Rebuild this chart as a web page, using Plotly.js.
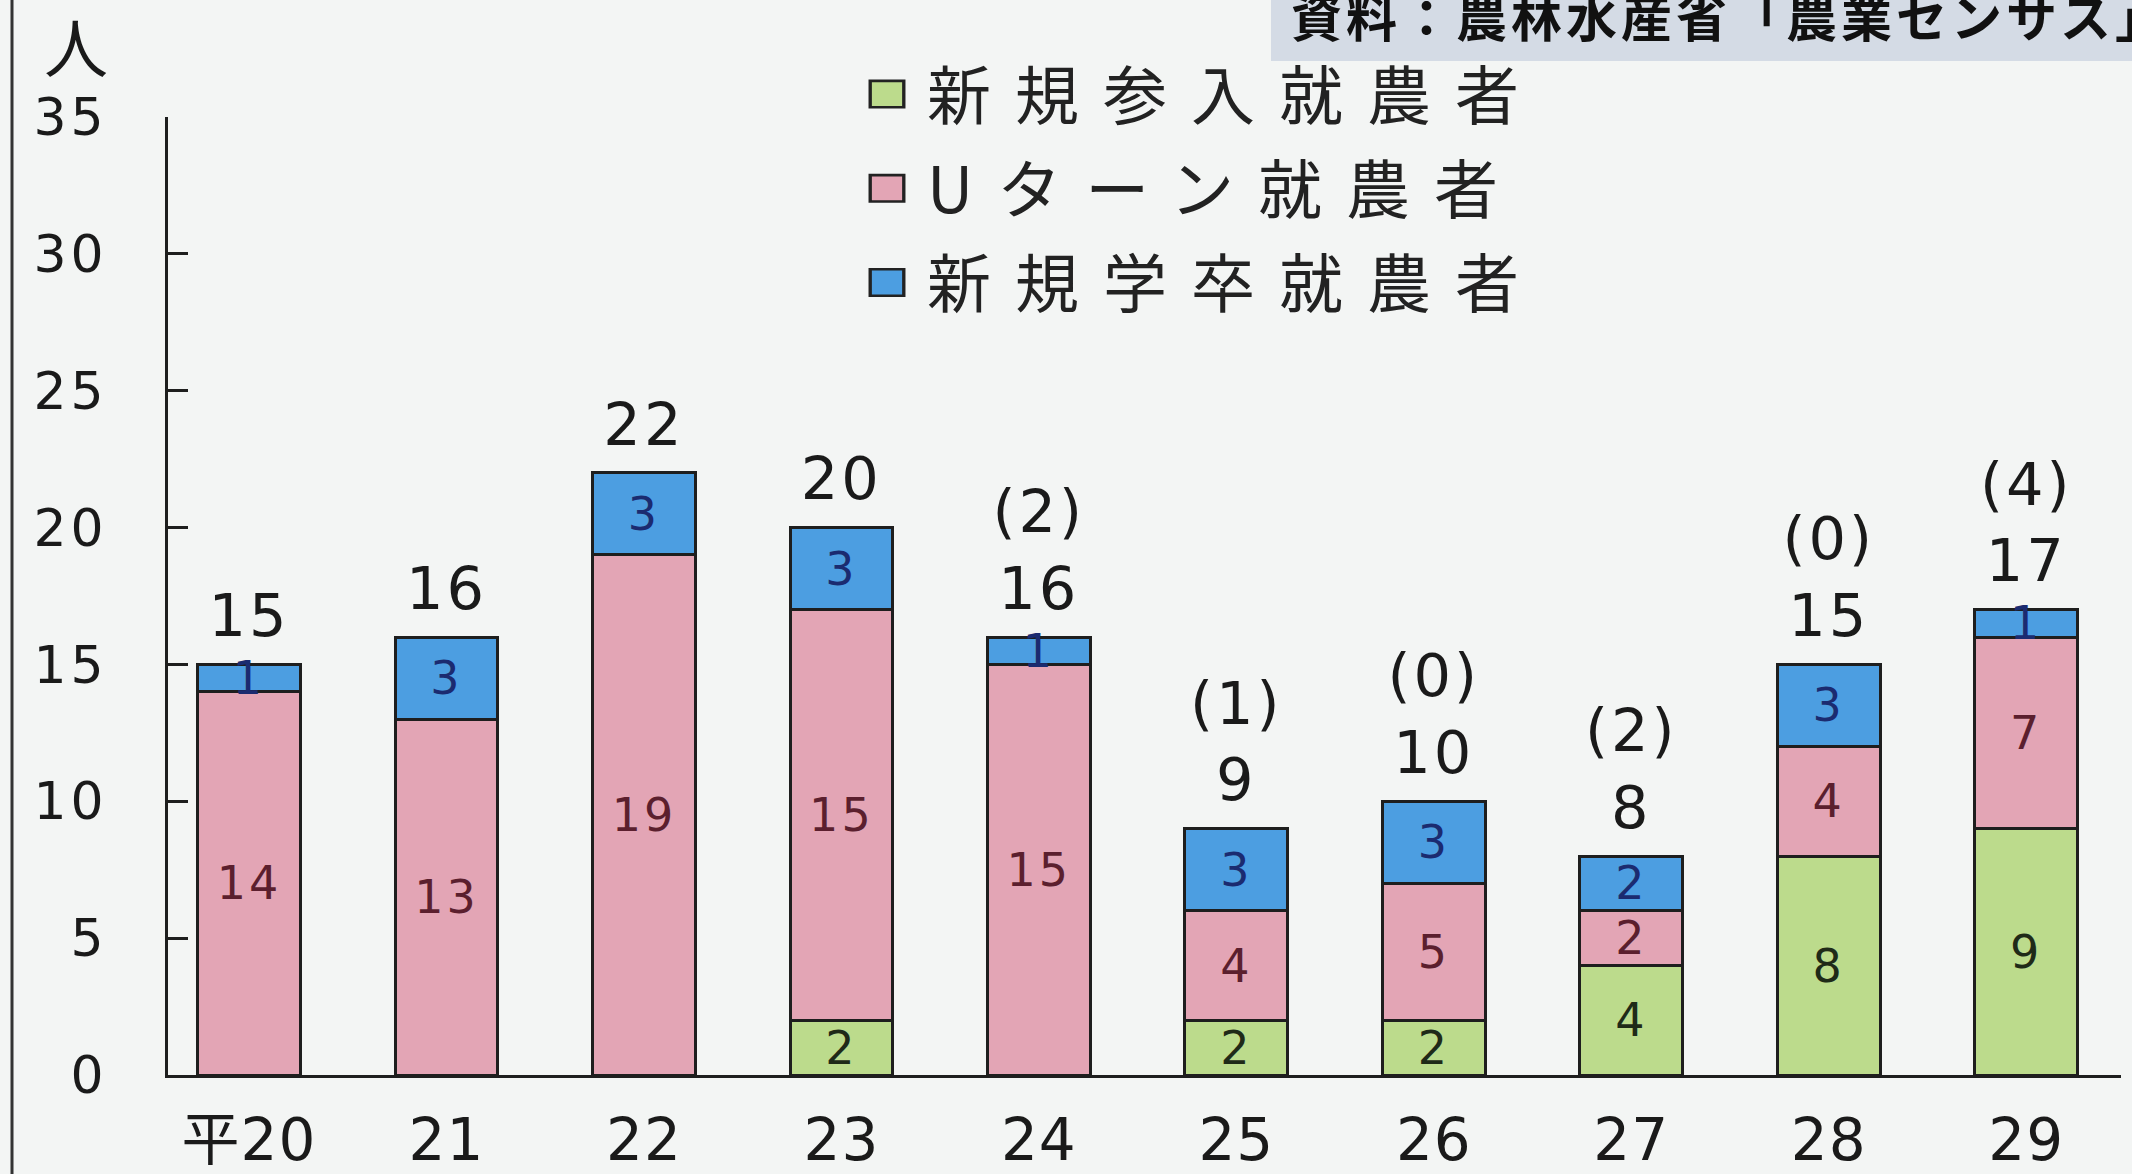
<!DOCTYPE html>
<html>
<head>
<meta charset="utf-8">
<script src="https://cdn.plot.ly/plotly-3.0.1.min.js"></script>
<style>
  html, body { margin: 0; padding: 0; background: #f3f5f4; }
  #chart { width: 2132px; height: 1174px; }
  .ytick text { letter-spacing: 4px; }
  .xtick text { letter-spacing: 1px; }
  text.legendtext { letter-spacing: 24px; }
  .textpoint text { letter-spacing: 3px; }
  text.bartext { letter-spacing: 3px; }
  .annotation-text { letter-spacing: 4px; }
</style>
</head>
<body>
<div id="chart"></div>
<script>
// ---- data ----
const years = ["平20", "21", "22", "23", "24", "25", "26", "27", "28", "29"];
const newEntrants = [0, 0, 0, 2, 0, 2, 2, 4, 8, 9];        // 新規参入就農者
const uTurn       = [14, 13, 19, 15, 15, 4, 5, 2, 4, 7];    // Uターン就農者
const newGrads    = [1, 3, 3, 3, 1, 3, 3, 2, 3, 1];         // 新規学卒就農者
const totals      = [15, 16, 22, 20, 16, 9, 10, 8, 15, 17];
const parens      = [null, null, null, null, 2, 1, 0, 2, 0, 4];
const seriesNames = ["新規参入就農者", "Uターン就農者", "新規学卒就農者"];
const yTicks      = [0, 5, 10, 15, 20, 25, 30, 35];
const unitLabel   = "人";
const sourceText  = "資料：農林水産省「農業センサス」";

// ---- layout helpers (pixel -> paper) ----
const W = 2132, H = 1174;
const M = { l: 168, r: 11, t: 117, b: 99 };
const pw = W - M.l - M.r, ph = H - M.t - M.b;
const px = x => (x - M.l) / pw;
const py = y => (H - M.b - y) / ph;

const FONT = '"Noto Sans CJK JP", "Noto Sans", sans-serif';
const NUMFONT = '"DejaVu Sans", "Noto Sans CJK JP", sans-serif';
const lineCol = '#1e1e1e';

function barTrace(name, vals, color, txtColor) {
  return {
    type: 'bar', name: name, x: years, y: vals,
    legendgroup: name,
    marker: { color: color, line: { color: lineCol, width: 3 } },
    text: vals.map(v => v > 0 ? String(v) : ''),
    textposition: 'inside', insidetextanchor: 'middle',
    textangle: 0, constraintext: 'none',
    insidetextfont: { family: NUMFONT, size: 46, color: txtColor },
    hoverinfo: 'x+y+name'
  };
}

const traces = [
  barTrace(seriesNames[0], newEntrants, '#bcdb8c', '#1f2a18'),
  barTrace(seriesNames[1], uTurn, '#e3a5b5', '#5b1f2e'),
  barTrace(seriesNames[2], newGrads, '#4c9ee1', '#1b2b70'),
  {
    type: 'scatter', mode: 'markers+text', x: years, y: totals,
    text: totals.map((t, i) => parens[i] === null ? String(t) : '(' + parens[i] + ')<br>' + t),
    textposition: 'top center',
    marker: { size: 20, color: 'rgba(0,0,0,0)' },
    textfont: { family: NUMFONT, size: 59, color: '#1a1a1a' },
    showlegend: false, hoverinfo: 'skip', cliponaxis: false
  }
];

const layout = {
  width: W, height: H,
  margin: M,
  paper_bgcolor: '#f3f5f4', plot_bgcolor: '#f3f5f4',
  barmode: 'stack', bargap: 0.48,
  font: { family: FONT, color: '#1a1a1a' },
  showlegend: true,
  legend: {
    traceorder: 'grouped', tracegroupgap: 8,
    x: px(847), xanchor: 'left', y: py(46), yanchor: 'top',
    itemwidth: 70, bgcolor: 'rgba(0,0,0,0)',
    font: { family: FONT, size: 64, color: '#222' }
  },
  xaxis: {
    type: 'category', range: [-0.41, 9.48],
    showline: true, linecolor: lineCol, linewidth: 3,
    ticks: '', showgrid: false, zeroline: false,
    tickfont: { family: NUMFONT, size: 58, color: '#1a1a1a' },
    ticklabelstandoff: 12, fixedrange: true
  },
  yaxis: {
    range: [0, 35], tickvals: yTicks,
    showline: true, linecolor: lineCol, linewidth: 3,
    ticks: 'inside', ticklen: 20, tickwidth: 3, tickcolor: lineCol,
    showgrid: false, zeroline: false,
    tickfont: { family: NUMFONT, size: 52, color: '#1a1a1a' },
    ticklabelstandoff: 47, fixedrange: true
  },
  shapes: [
    { type: 'rect', xref: 'paper', yref: 'paper', x0: px(1271), x1: px(2140), y0: py(61), y1: py(-5),
      fillcolor: '#d4dbe5', line: { width: 0 }, layer: 'below' },
    { type: 'line', xref: 'paper', yref: 'paper', x0: px(12), x1: px(12), y0: py(H + 5), y1: py(-5),
      line: { color: '#333', width: 3 } }
  ],
  annotations: [
    { xref: 'paper', yref: 'paper', x: px(1289), y: py(15), xanchor: 'left', yanchor: 'middle',
      text: sourceText, showarrow: false,
      font: { family: FONT, size: 51, color: '#111', weight: 'bold' } },
    { xref: 'paper', yref: 'paper', x: px(78), y: py(44), xanchor: 'center', yanchor: 'middle',
      text: unitLabel, showarrow: false,
      font: { family: FONT, size: 64, color: '#1a1a1a' } }
  ]
};

Plotly.newPlot('chart', traces, layout, { displayModeBar: false, staticPlot: true }).then(gd => {
  // reshape legend swatches to match the printed boxes
  gd.querySelectorAll('.legendpoints path').forEach(p => {
    const t = p.getAttribute('transform') || '';
    p.setAttribute('transform', t + ' scale(2.8, 2.2)');
    p.style.strokeWidth = '1.2px';
    p.style.stroke = '#222';
  });
});
</script>
</body>
</html>
